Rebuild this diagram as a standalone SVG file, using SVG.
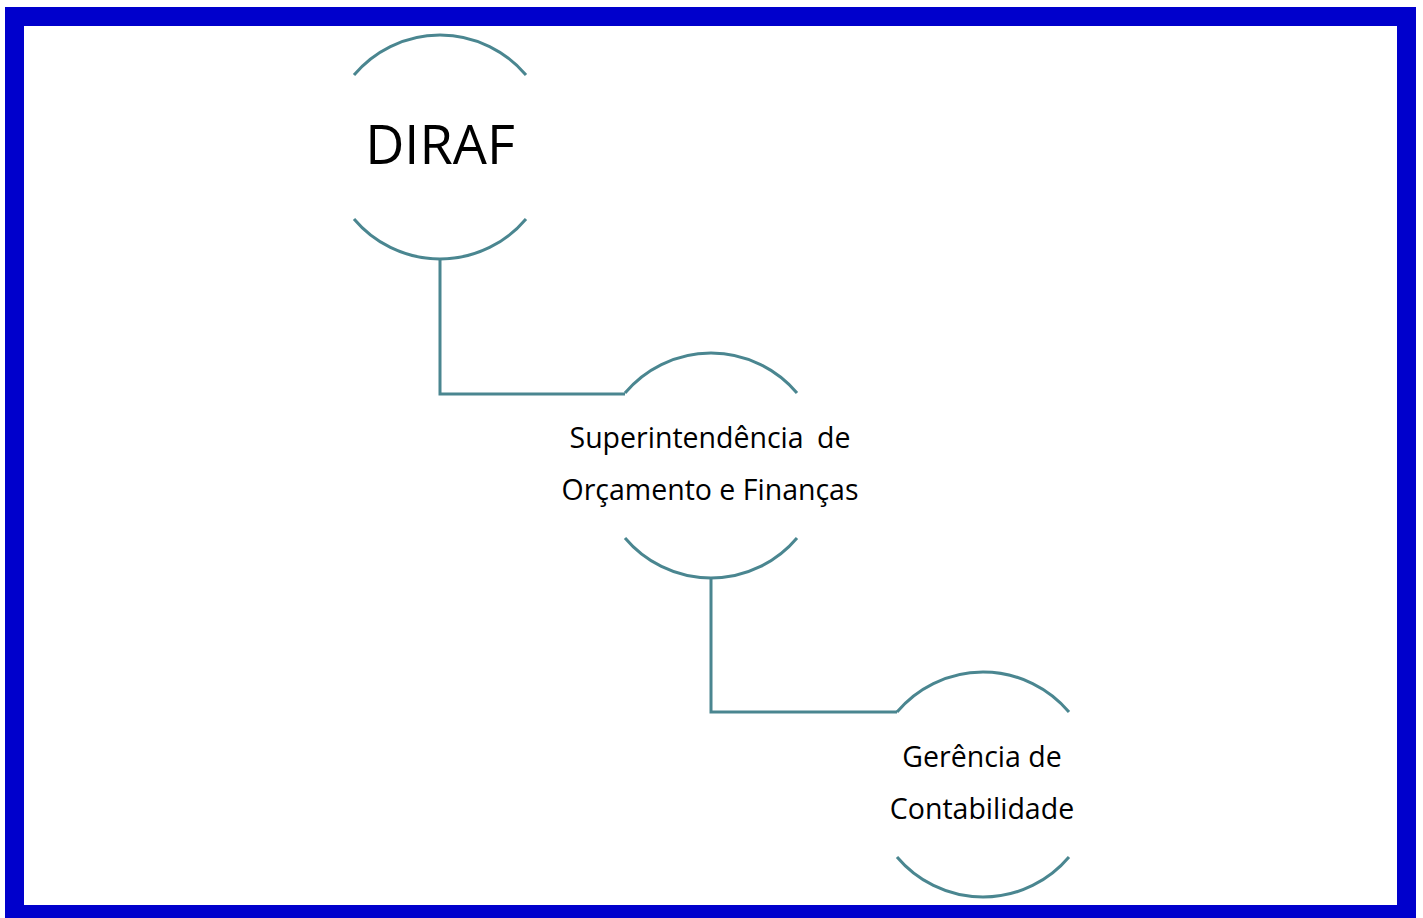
<svg xmlns="http://www.w3.org/2000/svg" width="1423" height="918" viewBox="0 0 1423 918">
<style>
.arc{fill:none;stroke:#4A8690;stroke-width:3}
.con{fill:none;stroke:#4A8690;stroke-width:3}
.t{font-family:"Open Sans","Noto Sans",sans-serif;fill:#000;text-anchor:middle}
.s{font-size:28.5px}
</style>
<rect x="0" y="0" width="1423" height="918" fill="#fff"/>
<rect x="14.5" y="16.5" width="1392" height="898" fill="#fff" stroke="#0000CC" stroke-width="19"/>
<g id="connectors">
<path class="con" d="M440 260 V394 H625"/>
<path class="con" d="M711 578 V712 H897"/>
</g>
<g id="node-diraf">
<path class="arc" d="M354 75 A112.5 112.5 0 0 1 526 75"/>
<path class="arc" d="M354 219 A112.5 112.5 0 0 0 526 219"/>
<text class="t" x="440" y="164" font-size="54">DIRAF</text>
</g>
<g id="node-sof">
<path class="arc" d="M625 393 A112.5 112.5 0 0 1 797 393"/>
<path class="arc" d="M625 538 A112.5 112.5 0 0 0 797 538"/>
<text class="t s" x="710" y="448" word-spacing="6">Superintendência de</text>
<text class="t s" x="710" y="500">Orçamento e Finanças</text>
</g>
<g id="node-gc">
<path class="arc" d="M897 712 A112.5 112.5 0 0 1 1069 712"/>
<path class="arc" d="M897 857 A112.5 112.5 0 0 0 1069 857"/>
<text class="t s" x="982" y="767">Gerência de</text>
<text class="t s" x="982" y="819">Contabilidade</text>
</g>
</svg>
